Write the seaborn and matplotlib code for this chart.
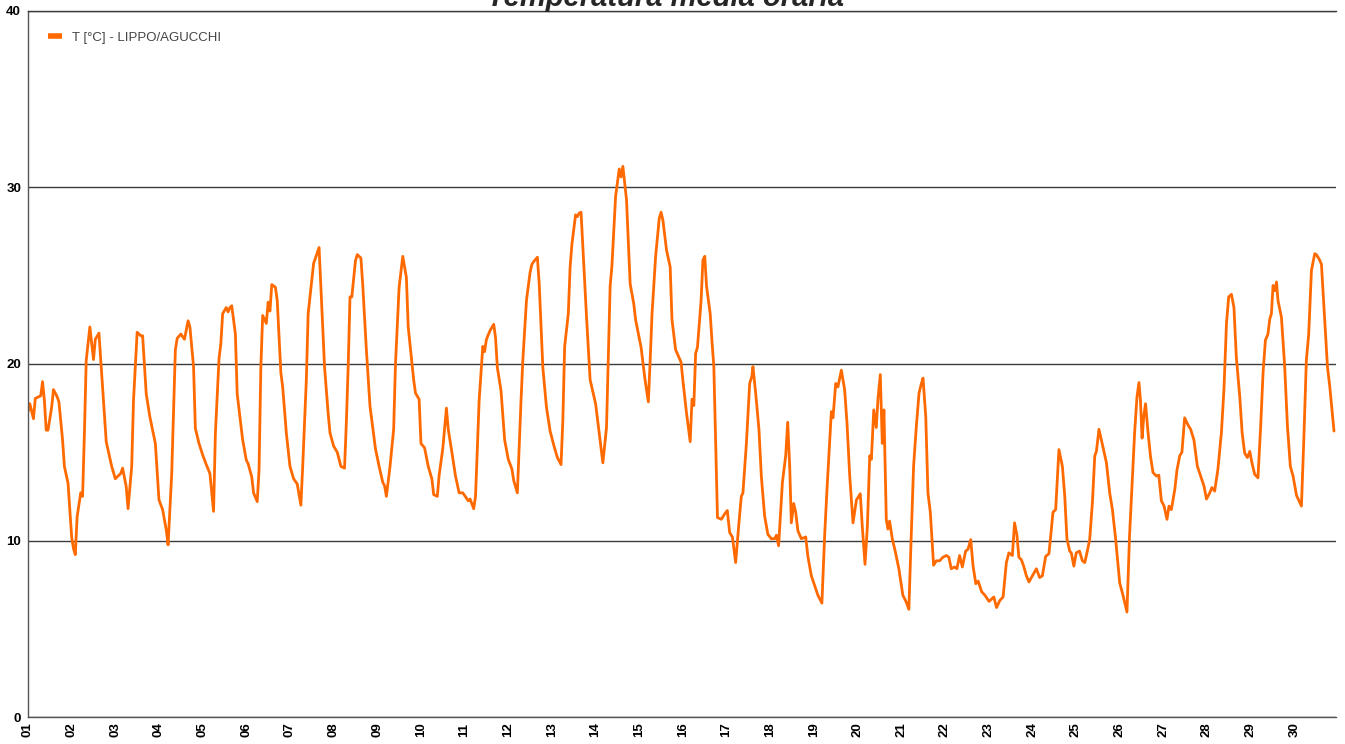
import numpy as np
import pandas as pd
import seaborn as sns
import matplotlib.pyplot as plt

# ore dall'inizio del mese (00:00 del giorno 01) e temperatura media oraria
ore = [
    0, 1, 3, 4, 6, 7, 8, 9, 10, 11, 13, 14, 16, 17, 19, 20, 22, 24, 25, 26,
    27, 29, 30, 31, 32, 34, 35, 36, 37, 39, 41, 43, 46, 48, 51, 52, 54, 55, 57, 58,
    60, 62, 63, 65, 67, 70, 72, 74, 76, 77, 79, 81, 82, 84, 86, 88, 89, 91, 92, 94,
    96, 98, 100, 102, 103, 105, 106, 107, 109, 110, 111, 112, 114, 115, 118, 120, 121, 123, 124, 126,
    127, 128, 129, 131, 132, 133, 134, 136, 137, 139, 140, 142, 144, 146, 148, 150, 151, 153, 154, 157,
    158, 160, 161, 163, 165, 166, 168, 170, 172, 174, 175, 176, 177, 178, 180, 181, 183, 184, 186, 188,
    191, 193, 195, 196, 197, 199, 201, 202, 204, 206, 208, 209, 212, 213, 215, 216, 218, 220, 222, 223,
    225, 226, 228, 230, 231, 233, 235, 237, 239, 242, 243, 245, 246, 248, 250, 251, 252, 254, 256, 257,
    258, 260, 262, 264, 266, 267, 269, 271, 272, 274, 276, 277, 278, 280, 281, 283, 285, 287, 289, 291,
    293, 294, 295, 297, 298, 299, 301, 302, 303, 304, 305, 307, 309, 312, 314, 316, 318, 320, 321, 323,
    325, 326, 327, 329, 331, 333, 334, 337, 339, 341, 342, 343, 345, 347, 348, 349, 351, 353, 354, 356,
    359, 360, 362, 364, 365, 366, 367, 368, 370, 371, 372, 373, 375, 376, 377, 378, 379,
    381.1, 382.9, 384.4, 385.7, 387.2, 389.0, 390.8, 392.1, 393.0, 394.9, 396.7, 397.9, 398.5, 400.0,
    401.8, 403.1, 404.9, 406.7, 408.6, 410.4, 411.4, 412.6, 413.6, 414.7, 416.5, 417.6, 418.7, 419.6,
    420.9, 422.0, 423.2, 425.1, 427.5, 428.7, 430.6, 432.4, 434.2, 436.4, 437.9, 439.2, 440.7, 441.6,
    442.5, 444.0, 445.2, 447.1, 448.9, 450.2, 451.7, 453.5, 455.4, 457.5, 458.6, 460.1, 461.4, 462.7,
    463.6, 464.9, 466.3, 467.2, 468.5, 469.6, 470.5, 471.8, 472.7, 473.6, 475.1, 476.9, 478.7, 480.9,
    482.8, 484.2, 485.5, 486.8, 488.3, 489.8, 491.1, 492.0, 493.5, 494.7, 496.0, 497.8, 499.3, 501.1,
    502.9, 504.8, 506.2, 507.5, 509.3, 510.6, 512.1, 513.6, 515.4, 516.7, 518.2, 519.5, 521.0, 522.3,
    524.2, 526.0, 528.3, 530.9, 532.4, 534.2, 536.0, 537.8, 539.2, 541.1, 542.3, 543.6, 544.7, 546.1,
    547.3, 548.8, 550.2, 552.1, 554.3, 556.1, 557.6, 559.4, 561.2, 562.5, 563.4, 564.9, 566.7, 568.6,
    569.9, 571.1, 572.6, 573.5, 574.9, 576.2, 578.0, 579.6, 580.9, 582.1, 583.6, 585.1, 586.4, 587.3,
    588.7, 590.9, 592.8, 594.6, 596.1, 597.9, 600.1, 601.9, 604.1, 605.5, 607.1, 608.3, 609.6, 610.7,
    611.5, 612.4, 613.3, 614.3, 615.7, 617.0, 618.4, 620.3, 621.6, 623.0, 624.5, 626.1, 627.2, 628.5,
    630.4, 631.6, 633.1, 634.3, 635.8, 637.6, 639.1, 640.9, 642.8, 644.6, 646.4, 647.8, 649.6, 650.8,
    652.3, 654.1, 656.0, 657.4, 658.8, 660.0, 661.5, 662.9, 664.2, 666.1, 667.4, 668.8, 670.3, 671.6,
    672.8, 674.3, 676.1, 677.6, 678.9, 680.2, 681.6, 682.6, 683.5, 684.4, 685.3, 686.3, 687.1, 689.0,
    690.8, 692.3, 693.9, 695.4, 697.3, 700.0, 701.3, 702.7, 704.0, 705.5, 707.3, 708.2, 709.7, 711.0,
    712.4, 714.3, 715.6, 717.9,
]
temperatura = [
    17.3, 17.75, 16.9, 18.05, 18.15, 18.2, 19.0, 17.95, 16.25, 16.25, 17.55, 18.55, 18.15, 17.85, 15.7, 14.2, 13.25, 10.2, 9.55, 9.2,
    11.35, 12.7, 12.5, 16.05, 20.2, 22.1, 21.15, 20.25, 21.4, 21.75, 18.7, 15.6, 14.2, 13.5, 13.8, 14.1, 13.05, 11.8, 14.2, 17.95,
    21.8, 21.6, 21.6, 18.3, 17.0, 15.5, 12.3, 11.75, 10.6, 9.75, 13.8, 20.8, 21.45, 21.7, 21.4, 22.45, 22.1, 19.85, 16.35, 15.5,
    14.85, 14.3, 13.8, 11.65, 16.05, 20.3, 21.15, 22.85, 23.2, 22.95, 23.2, 23.3, 21.7, 18.3, 15.7, 14.55, 14.35, 13.6, 12.7, 12.2,
    14.0, 19.85, 22.75, 22.3, 23.5, 23.0, 24.5, 24.35, 23.6, 19.5, 18.7, 16.1, 14.2, 13.5, 13.2, 12.0, 14.2, 19.1, 22.85, 25.7,
    26.0, 26.6, 24.35, 19.85, 17.2, 16.1, 15.35, 15.0, 14.2, 14.1, 16.7, 19.85, 23.8, 23.8, 25.85, 26.2, 26.0, 24.5, 20.8, 17.6,
    15.2, 14.2, 13.3, 13.1, 12.5, 14.2, 16.3, 20.0, 24.35, 26.1, 24.9, 22.1, 19.1, 18.35, 18.0, 15.5, 15.25, 14.2, 13.5, 12.6,
    12.5, 13.7, 15.2, 17.5, 16.3, 15.0, 13.65, 12.7, 12.7, 12.25, 12.35, 11.8, 12.5, 17.95, 21.0, 20.7, 21.4, 21.9, 22.25, 21.5,
    19.8, 18.5, 15.7, 14.6, 14.05, 13.4, 12.7, 17.9, 20.2, 23.6, 25.2, 25.65, 25.8, 26.05, 24.55, 19.8, 17.55, 16.2, 15.4, 14.7,
    14.3, 16.8, 21.0, 22.85, 25.5, 26.8, 28.45, 28.35, 28.55, 28.6, 26.65, 22.7, 19.1, 17.75, 16.05, 14.4, 16.4, 24.4, 25.6, 29.5,
    31.05, 30.6, 31.2, 29.3, 24.55, 23.4, 22.5, 20.95, 19.25, 17.85, 20.2, 22.8, 26.1, 28.25, 28.6, 28.15, 26.45, 25.5, 22.5, 20.8,
    20.1, 19.05, 17.2, 15.6, 18.0, 17.65, 20.6, 20.95, 23.6, 25.9, 26.1, 24.4, 22.85, 21.25, 19.85, 15.5, 11.3,
    11.2, 11.5, 11.7, 10.45, 10.2, 8.75, 11.0, 12.5, 12.7, 15.5, 18.9, 19.3, 19.85, 18.35,
    16.3, 13.65, 11.4, 10.35, 10.1, 10.1, 10.3, 9.7, 11.4, 13.3, 14.8, 16.7, 14.2, 11.0,
    12.1, 11.6, 10.55, 10.1, 10.2, 9.1, 8.0, 7.45, 6.9, 6.45, 10.25, 12.9, 15.7, 17.3,
    16.95, 18.9, 18.7, 19.65, 18.55, 16.65, 13.65, 11.0, 12.3, 12.65, 10.8, 8.65, 10.8, 14.8,
    14.6, 17.4, 16.4, 18.0, 19.4, 15.5, 17.4, 11.2, 10.65, 11.1, 10.1, 9.3, 8.4, 6.9,
    6.5, 6.1, 10.25, 14.2, 16.45, 18.35, 18.9, 19.2, 17.0, 12.7, 11.6, 8.6, 8.85, 8.85,
    9.05, 9.15, 9.05, 8.4, 8.5, 8.4, 9.15, 8.5, 9.4, 9.5, 10.05, 8.55, 7.55, 7.7,
    7.1, 6.9, 6.55, 6.8, 6.2, 6.6, 6.8, 8.75, 9.3, 9.15, 11.0, 10.3, 9.05, 8.9,
    8.55, 8.0, 7.65, 8.0, 8.4, 7.9, 8.0, 9.1, 9.25, 10.6, 11.6, 11.75, 15.15, 14.2,
    12.5, 10.1, 9.4, 9.3, 8.55, 9.3, 9.4, 8.85, 8.75, 9.3, 10.05, 12.15, 14.8, 15.05,
    16.3, 15.3, 14.4, 12.7, 11.75, 10.05, 7.6, 6.9, 5.95, 10.25, 13.65, 16.1, 18.15, 18.95,
    17.95, 15.8, 17.0, 17.75, 16.1, 14.8, 13.85, 13.65, 13.7, 12.25, 11.95, 11.2, 11.95, 11.75,
    12.9, 14.0, 14.8, 15.0, 16.95, 16.55, 16.3, 15.7, 14.2, 13.65, 13.1, 12.35, 12.7, 13.0,
    12.8, 14.05, 16.1, 18.55, 22.3, 23.8, 23.95, 23.2, 20.4, 18.15, 16.1, 14.95, 14.7, 15.05,
    14.4, 13.75, 13.55, 16.5, 19.5, 21.35, 21.7, 22.55, 22.85, 24.45, 24.15, 24.65, 23.6, 22.65,
    19.85, 16.5, 14.2, 13.65, 12.55, 11.95, 15.7, 20.2, 21.7, 25.3, 26.25, 26.2, 25.95, 25.65,
    23.2, 19.85, 18.7, 16.2,
]
giorni = [f"{g:02d}" for g in range(1, 31)]
valori_y = [0, 10, 20, 30, 40]
serie = "T [°C] - LIPPO/AGUCCHI"
titolo = "Temperatura media oraria"

df = pd.DataFrame({"ora": ore, "T": temperatura})

sns.set_style("white")
plt.rcParams["font.family"] = ["Liberation Sans", "DejaVu Sans"]

fig = plt.figure(figsize=(13.45, 7.44), dpi=100)
ax = fig.add_axes([28 / 1345, 1 - 717 / 744, 1308 / 1345, 706 / 744])

sns.lineplot(data=df, x="ora", y="T", ax=ax, color="#ff6a00", linewidth=2.0,
             label=serie, estimator=None, sort=False,
             solid_joinstyle="round", solid_capstyle="round")

ax.set_xlim(0, 719)
ax.set_ylim(0, 40)
ax.set_xticks(np.arange(len(giorni)) * 24)
ax.set_xticklabels(giorni, rotation=90, fontweight="bold", fontsize=9.5)
ax.set_yticks(valori_y)
ax.set_yticklabels([str(v) for v in valori_y], fontweight="bold", fontsize=9.5)
ax.tick_params(axis="both", length=0, colors="black")
ax.tick_params(axis="x", pad=4)
ax.tick_params(axis="y", pad=5)
ax.set_xlabel("")
ax.set_ylabel("")

# griglia orizzontale
ax.grid(axis="y", color="#3c3c3c", linewidth=1.0)
ax.grid(axis="x", visible=False)
ax.set_axisbelow(True)
for lato in ["left", "bottom", "top"]:
    ax.spines[lato].set_visible(True)
    ax.spines[lato].set_color("#555555")
    ax.spines[lato].set_linewidth(1.0)
ax.spines["top"].set_color("#3c3c3c")
ax.spines["right"].set_visible(False)

leg = ax.legend(loc="upper left", bbox_to_anchor=(0.011, 0.978), frameon=False,
                fontsize=9.5, handlelength=1.05, handletextpad=0.8, borderaxespad=0)
for h in leg.get_lines():
    h.set_linewidth(4)
    h.set_solid_capstyle("butt")
for t in leg.get_texts():
    t.set_color("#444444")

fig.text(0.495, 0.992, titolo, ha="center", va="baseline", fontsize=21,
         fontweight="bold", fontstyle="italic")

fig.savefig("out.png", dpi=100)
